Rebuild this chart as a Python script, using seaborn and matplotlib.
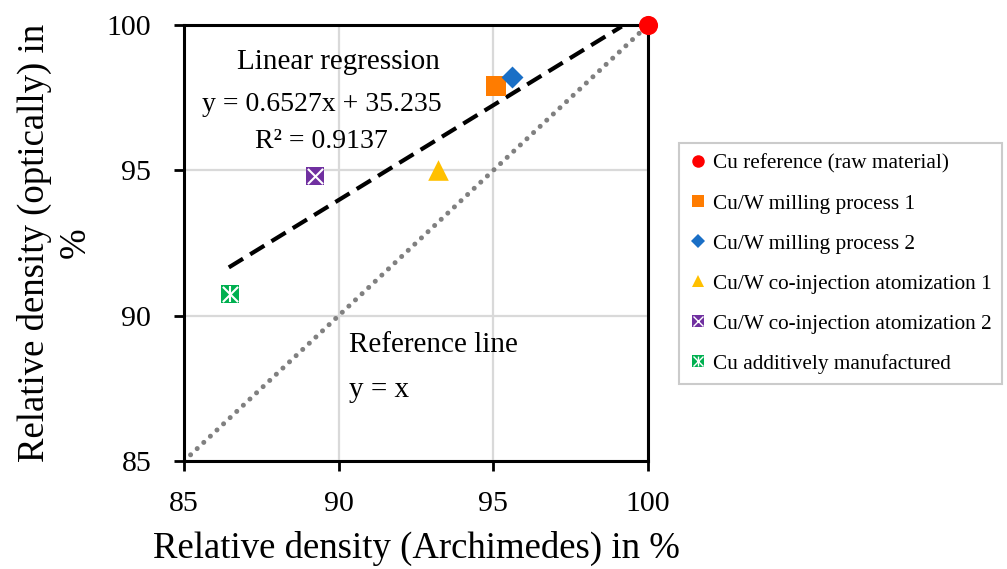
import matplotlib
matplotlib.use("Agg")
import matplotlib.pyplot as plt
import seaborn as sns
import numpy as np
import pandas as pd
from matplotlib.lines import Line2D
from matplotlib.legend_handler import HandlerTuple

samples = ["Cu reference (raw material)", "Cu/W milling process 1", "Cu/W milling process 2",
           "Cu/W co-injection atomization 1", "Cu/W co-injection atomization 2",
           "Cu additively manufactured"]
archimedes = [100.0, 95.1, 95.6, 93.2, 89.25, 86.5]
optical = [100.0, 97.9, 98.2, 95.0, 94.8, 90.75]
colors = ["#FF0000", "#FF7C00", "#1A6FC6", "#FFC000", "#7030A0", "#00B050"]
markers = ["o", "s", "D", "^", "s", "s"]
sizes = [190, 190, 125, 220, 170, 170]

slope, intercept = 0.6527, 35.235
fit_x = [86.45, 99.15]
ref_x = [85, 100]

df = pd.DataFrame({"sample": samples, "x": archimedes, "y": optical})

sns.set_style("white")
plt.rcParams["font.family"] = ["Liberation Serif", "DejaVu Serif"]
plt.rcParams["text.color"] = "black"
plt.rcParams["axes.labelcolor"] = "black"
plt.rcParams["xtick.color"] = "black"
plt.rcParams["ytick.color"] = "black"

fig = plt.figure(figsize=(10.07, 5.69), dpi=100)
ax = fig.add_axes([0.1827, 0.1898, 0.4608, 0.7662])

ax.grid(True, color="#D9D9D9", linewidth=1.6, zorder=0)
ax.set_axisbelow(True)

# reference line y = x and linear regression
ax.plot(ref_x, ref_x, linestyle=(0, (0.01, 1.8)), dash_capstyle="round", color="#808080",
        linewidth=3.6, zorder=2)
fx = np.array(fit_x)
ax.plot(fx, slope * fx + intercept, linestyle=(0, (4, 2)), color="black", linewidth=3, zorder=2)

for i, row in df.iterrows():
    sns.scatterplot(x=[row["x"]], y=[row["y"]], color=colors[i], marker=markers[i],
                    s=sizes[i], linewidth=0, ax=ax, zorder=4, legend=False)

# white crosses on the box markers
ax.scatter([archimedes[4]], [optical[4]], marker="x", s=120, color="white", linewidth=1.5, zorder=5)
ax.scatter([archimedes[5]], [optical[5]], marker="x", s=120, color="white", linewidth=1.5, zorder=5)
ax.scatter([archimedes[5]], [optical[5]], marker="|", s=120, color="white", linewidth=1.5, zorder=5)
for c in ax.collections:
    c.set_clip_on(False)

ax.set_xlim(85, 100)
ax.set_ylim(85, 100)
ax.set_xticks([85, 90, 95, 100])
ax.set_yticks([85, 90, 95, 100])
ax.tick_params(axis="both", labelsize=21.5, length=7.5, width=2, direction="out",
               bottom=True, left=True)
ax.tick_params(axis="x", pad=14)
ax.tick_params(axis="y", pad=16)
for sp in ax.spines.values():
    sp.set_color("black")
    sp.set_linewidth(2.2)

ax.set_xlabel("Relative density (Archimedes) in %", fontsize=26.5, labelpad=10)
ax.set_ylabel("Relative density (optically) in\n%", fontsize=26.5, labelpad=10, linespacing=1.22)

ax.text(90.0, 98.73, "Linear regression", fontsize=21, ha="center", va="center")
ax.text(89.45, 97.25, "y = 0.6527x + 35.235", fontsize=20, ha="center", va="center")
ax.text(89.45, 95.98, "R² = 0.9137", fontsize=20, ha="center", va="center")
ax.text(90.35, 89.0, "Reference line", fontsize=21, ha="left", va="center")
ax.text(90.35, 87.45, "y = x", fontsize=21, ha="left", va="center")

handles = []
for i in range(len(samples)):
    h = Line2D([], [], linestyle="", marker=markers[i], color=colors[i],
               markersize=9 if markers[i] != "D" else 7.5, markeredgewidth=0)
    if i == 4:
        h = (h, Line2D([], [], linestyle="", marker="x", color="white", markersize=6.5, markeredgewidth=1))
    elif i == 5:
        h = (h, Line2D([], [], linestyle="", marker="x", color="white", markersize=6.5, markeredgewidth=1),
             Line2D([], [], linestyle="", marker="|", color="white", markersize=6.5, markeredgewidth=1))
    handles.append(h)

leg = fig.legend(handles, samples, loc="upper left", bbox_to_anchor=(679 / 1007, 1 - 143 / 569),
                 fontsize=15.3, frameon=True, fancybox=False, edgecolor="#BFBFBF",
                 handlelength=0.75, handletextpad=0.35, labelspacing=0.95, borderpad=0.5,
                 borderaxespad=0, handler_map={tuple: HandlerTuple(ndivide=1, pad=0)})
leg.get_frame().set_linewidth(1.5)

fig.savefig("out.png", dpi=100)
